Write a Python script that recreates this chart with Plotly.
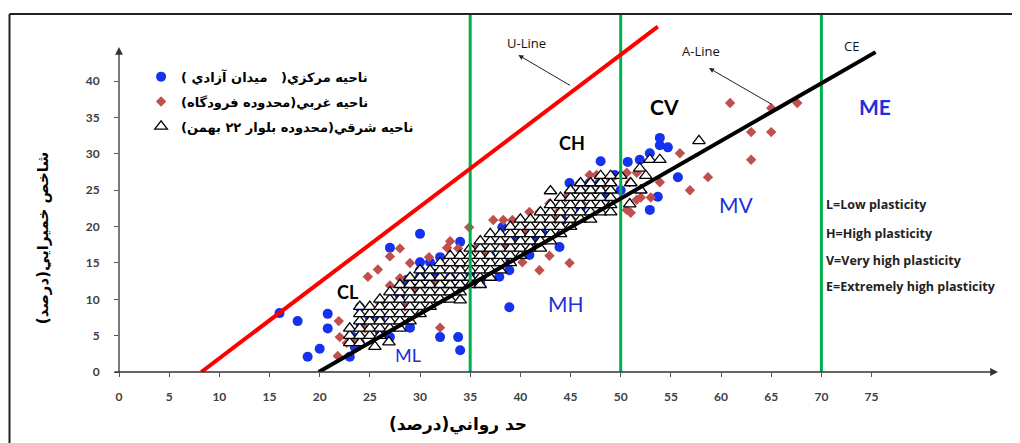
import plotly.graph_objects as go

# ---------------- data ----------------
x_tick_vals = [0, 5, 10, 15, 20, 25, 30, 35, 40, 45, 50, 55, 60, 65, 70, 75]
y_tick_vals = [0, 5, 10, 15, 20, 25, 30, 35, 40]

u_line_ll = [8.2, 53.7]
u_line_pi = [0, 47.5]
a_line_ll = [19.9, 75.4]
a_line_pi = [0, 44.0]
green_ll = [35, 50, 70]
green_top = 49.24

# central zone (blue circles)
central_ll = [16.0, 17.8, 18.8, 20.0, 20.8, 20.8, 23.0, 23.3, 23.5, 24.0, 24.1, 24.0,
              26.0, 27.0, 27.0, 29.0, 30.0, 30.0, 31.0, 32.0, 30.0, 28.7, 30.0, 32.0,
              33.8, 34.0, 34.0, 36.0, 37.9, 38.9, 38.9, 39.0, 40.9, 43.9, 38.2, 42.2,
              44.2, 39.7, 44.9, 46.9, 47.9, 48.6, 48.0, 50.7, 51.9, 52.9, 53.9, 53.9,
              54.7, 55.7, 53.7, 52.9, 49.4, 31.4, 25.0, 26.0, 28.0, 33.0, 35.0, 37.0,
              41.5, 46.0, 50.0]
central_pi = [8.1, 7.0, 2.1, 3.2, 8.0, 6.0, 2.1, 4.8, 3.4, 8.9, 6.4, 4.0,
              7.2, 17.1, 4.8, 6.1, 19.0, 15.1, 15.1, 15.8, 14.0, 12.7, 13.1, 4.8,
              4.8, 3.0, 17.9, 12.2, 13.1, 8.9, 14.0, 15.4, 16.1, 17.2, 19.9, 19.1,
              20.9, 18.3, 26.0, 26.0, 26.0, 24.1, 29.0, 28.9, 29.2, 30.1, 31.2, 32.2,
              30.9, 26.8, 24.1, 22.3, 27.1, 13.5, 7.5, 5.5, 10.5, 13.0, 13.5, 16.0,
              18.0, 22.5, 25.0]

# western zone (brown diamonds)
west_ll = [21.8, 21.9, 22.0, 22.7, 23.5, 24.8, 25.8, 27.0, 27.0, 28.0, 28.0, 29.0,
           30.9, 32.0, 32.7, 33.0, 33.8, 34.9, 37.3, 38.3, 39.2, 39.9, 40.9, 41.9,
           40.2, 41.9, 42.9, 44.9, 42.9, 43.9, 45.2, 45.9, 46.9, 47.6, 46.1, 48.1,
           50.6, 51.6, 50.9, 50.6, 51.6, 52.0, 53.0, 53.9, 51.0, 55.9, 56.9, 58.7,
           60.9, 65.0, 67.6, 63.0, 65.0, 63.0, 26.0, 29.5, 31.5, 34.0, 36.5, 38.5,
           40.5, 43.5, 44.5, 47.0, 49.0, 24.5, 28.5, 35.5]
west_pi = [2.2, 7.0, 4.8, 4.0, 4.1, 13.1, 14.1, 15.9, 11.9, 17.0, 12.9, 15.0,
           15.8, 6.1, 17.1, 18.0, 17.0, 19.9, 20.9, 20.9, 20.9, 20.9, 22.0, 22.0,
           15.1, 14.0, 16.0, 15.0, 23.2, 22.2, 20.9, 26.0, 27.1, 27.1, 23.2, 25.5,
           27.4, 27.4, 26.1, 22.3, 23.7, 24.0, 24.0, 26.1, 21.9, 30.1, 25.0, 26.8,
           37.0, 36.3, 37.0, 33.0, 33.0, 29.2, 9.5, 11.5, 12.5, 14.5, 16.5, 17.5,
           19.5, 21.0, 24.0, 24.0, 26.5, 6.0, 9.0, 17.0]

# eastern zone (open triangles): PI values read per liquid-limit column
east_columns = {
    23: [4, 5, 6],
    24: [4, 5, 6, 7, 8, 9],
    25: [5, 6, 7, 8, 9],
    26: [5, 6, 7, 8, 9, 10],
    27: [6, 7, 8, 9, 10, 11],
    28: [6, 7, 8, 9, 10, 11, 12],
    29: [7, 8, 9, 10, 11, 12, 13],
    30: [8, 9, 10, 11, 12, 13, 14],
    31: [9, 10, 11, 12, 13, 14],
    32: [10, 11, 12, 13, 14, 15],
    33: [10, 11, 12, 13, 14, 15, 16],
    34: [11, 12, 13, 14, 15, 16],
    35: [12, 13, 14, 15, 16, 17],
    36: [12, 13, 14, 15, 16, 17, 18],
    37: [13, 14, 15, 16, 17, 18, 19],
    38: [14, 15, 16, 17, 18, 19],
    39: [15, 16, 17, 18, 19, 20],
    40: [16, 17, 18, 19, 20, 21],
    41: [17, 18, 19, 20, 21],
    42: [17, 18, 19, 20, 21, 22],
    43: [18, 19, 20, 21, 22, 23],
    44: [19, 20, 21, 22, 23, 24],
    45: [20, 21, 22, 23, 24, 25],
    46: [21, 22, 23, 24, 25, 26],
    47: [21, 22, 23, 24, 25, 26],
    48: [22, 23, 24, 25, 26, 27],
    49: [22, 23, 24, 25, 26, 27],
}
east_extra_ll = [43.0, 50.9, 52.0, 51.9, 52.9, 53.9, 57.8, 26.9, 25.5, 50.0, 51.0, 52.5, 34.0]
east_extra_pi = [24.9, 23.1, 25.0, 28.0, 29.2, 29.2, 31.8, 4.1, 3.5, 27.0, 26.0, 27.0, 9.9]

legend_names = [
    "\u200fناحیه مرکزي(   میدان آزادي )\u200f",
    "\u200fناحیه غربي(محدوده فرودگاه)\u200f",
    "\u200fناحیه شرقي(محدوده بلوار ۲۲ بهمن)\u200f",
]

zone_labels = ["CV", "ME", "CH", "MV", "CL", "MH", "ML"]
zone_ll = [54.4, 75.3, 45.1, 61.5, 22.8, 44.5, 28.8]
zone_pi = [36.5, 36.5, 31.5, 23.0, 11.0, 9.4, 2.3]

plast_text = ["L=Low plasticity", "H=High plasticity", "V=Very high plasticity",
              "E=Extremely high plasticity"]
plast_pi = [23.0, 19.1, 15.4, 11.7]

# ---------------- figure ----------------
east_ll, east_pi = [], []
for ll, pis in east_columns.items():
    for p in pis:
        east_ll.append(ll)
        east_pi.append(p)
east_ll += east_extra_ll
east_pi += east_extra_pi

BLUE = "#1432f0"
BROWN = "#c0504d"
TXTBLUE = "#2030d8"

fig = go.Figure()
fig.add_trace(go.Scatter(x=central_ll, y=central_pi, mode="markers", name=legend_names[0],
                         legendgroup="a",
                         marker=dict(symbol="circle", size=10, color=BLUE)))
fig.add_trace(go.Scatter(x=west_ll, y=west_pi, mode="markers", name=legend_names[1],
                         legendgroup="b",
                         marker=dict(symbol="diamond", size=8, color=BROWN)))
fig.add_trace(go.Scatter(x=east_ll, y=east_pi, mode="markers", name=legend_names[2],
                         legendgroup="c",
                         marker=dict(symbol="triangle-up", size=11, color="white",
                                     line=dict(color="black", width=1.3))))

gx, gy = [], []
for g in green_ll:
    gx += [g, g, None]
    gy += [0, green_top, None]
fig.add_trace(go.Scatter(x=gx, y=gy, mode="lines", showlegend=False,
                         line=dict(color="#00b050", width=3), hoverinfo="skip"))
fig.add_trace(go.Scatter(x=u_line_ll, y=u_line_pi, mode="lines", showlegend=False,
                         line=dict(color="#ff0000", width=4), hoverinfo="skip"))
fig.add_trace(go.Scatter(x=a_line_ll, y=a_line_pi, mode="lines", showlegend=False,
                         line=dict(color="black", width=4), hoverinfo="skip"))

ann = []
# axis arrows
ann.append(dict(x=87.6, y=0, ax=-0.6, ay=0, xref="x", yref="y", axref="x", ayref="y",
                text="", showarrow=True, arrowhead=2, arrowsize=1.2, arrowwidth=1.3,
                arrowcolor="#333333"))
ann.append(dict(x=0, y=44.7, ax=0, ay=-0.3, xref="x", yref="y", axref="x", ayref="y",
                text="", showarrow=True, arrowhead=2, arrowsize=1.2, arrowwidth=1.3,
                arrowcolor="#333333"))
# U-line / A-line pointers
ann.append(dict(x=39.8, y=43.6, ax=45.1, ay=39.3, xref="x", yref="y", axref="x", ayref="y",
                text="", showarrow=True, arrowhead=2, arrowsize=1, arrowwidth=1,
                arrowcolor="#222222"))
ann.append(dict(x=58.8, y=41.8, ax=65.2, ay=36.7, xref="x", yref="y", axref="x", ayref="y",
                text="", showarrow=True, arrowhead=2, arrowsize=1, arrowwidth=1,
                arrowcolor="#222222"))
for t, x, y in [("U-Line", 40.6, 45.3), ("A-Line", 58.0, 44.2), ("CE", 73.0, 44.8)]:
    ann.append(dict(x=x, y=y, text=t, showarrow=False, xref="x", yref="y",
                    font=dict(family="Open Sans", size=13, color="#111111")))
# zone labels
for t, x, y in zip(zone_labels, zone_ll, zone_pi):
    blue = t.startswith("M")
    size = 21 if t in ("CV", "ME", "MV", "MH") else 18
    ann.append(dict(x=x, y=y, text=t, showarrow=False, xref="x", yref="y",
                    font=dict(family="Lato", size=size,
                              color=TXTBLUE if blue else "black",
                              weight="bold" if t in ("CV", "CH", "CL", "ME") else "normal")))
# plasticity legend
for t, y in zip(plast_text, plast_pi):
    ann.append(dict(x=70.25, y=y, text=t, showarrow=False, xref="x", yref="y",
                    xanchor="left",
                    font=dict(family="Open Sans", size=12.5, color="#222222", weight="bold")))
# axis titles
ann.append(dict(x=33.8, y=-0.147, xref="x", yref="paper", text="\u200fحد رواني(درصد)\u200f",
                xanchor="center", yanchor="middle",
                showarrow=False, font=dict(family="DejaVu Sans", size=17, color="black",
                                           weight="bold")))
ann.append(dict(x=-0.086, y=0.372, xref="paper", yref="paper",
                text="\u200fشاخص خميرايي(درصد)\u200f", textangle=-90,
                xanchor="center", yanchor="middle",
                showarrow=False, font=dict(family="DejaVu Sans", size=15, color="black",
                                           weight="bold")))

# page frame (top and left edges)
shapes = [
    dict(type="line", xref="paper", yref="y", x0=-0.1240, x1=1.05, y0=49.24, y1=49.24,
         layer="above", line=dict(color="#222222", width=2)),
    dict(type="line", xref="paper", yref="paper", x0=-0.1240, x1=-0.1240, y0=-0.21,
         y1=0.9944, layer="above", line=dict(color="#222222", width=2)),
]

tickfont = dict(family="Lato", size=12, color="#404040", weight="bold")
# the page places the figure 8 px from the top-left corner, so the figure is 8 px smaller
fig.update_layout(
    width=1012, height=435,
    margin=dict(l=111, r=18, t=4, b=71),
    paper_bgcolor="white", plot_bgcolor="white",
    xaxis=dict(range=[0, 88], tickvals=x_tick_vals, showgrid=False, zeroline=False,
               showline=False, ticks="outside", ticklen=4, tickcolor="#555555",
               tickfont=tickfont, ticklabelstandoff=10),
    yaxis=dict(range=[0, 49.52], tickvals=y_tick_vals, showgrid=False, zeroline=False,
               showline=False, ticks="outside", ticklen=4, tickcolor="#555555",
               tickfont=tickfont, ticklabelstandoff=12),
    legend=dict(x=0.025, y=0.862, xanchor="left", yanchor="top", bgcolor="rgba(0,0,0,0)",
                tracegroupgap=5, traceorder="grouped", itemwidth=30,
                font=dict(family="DejaVu Sans", size=13, color="black", weight="bold")),
    annotations=ann,
    shapes=shapes,
    showlegend=True,
)

fig.write_html("out.html")
